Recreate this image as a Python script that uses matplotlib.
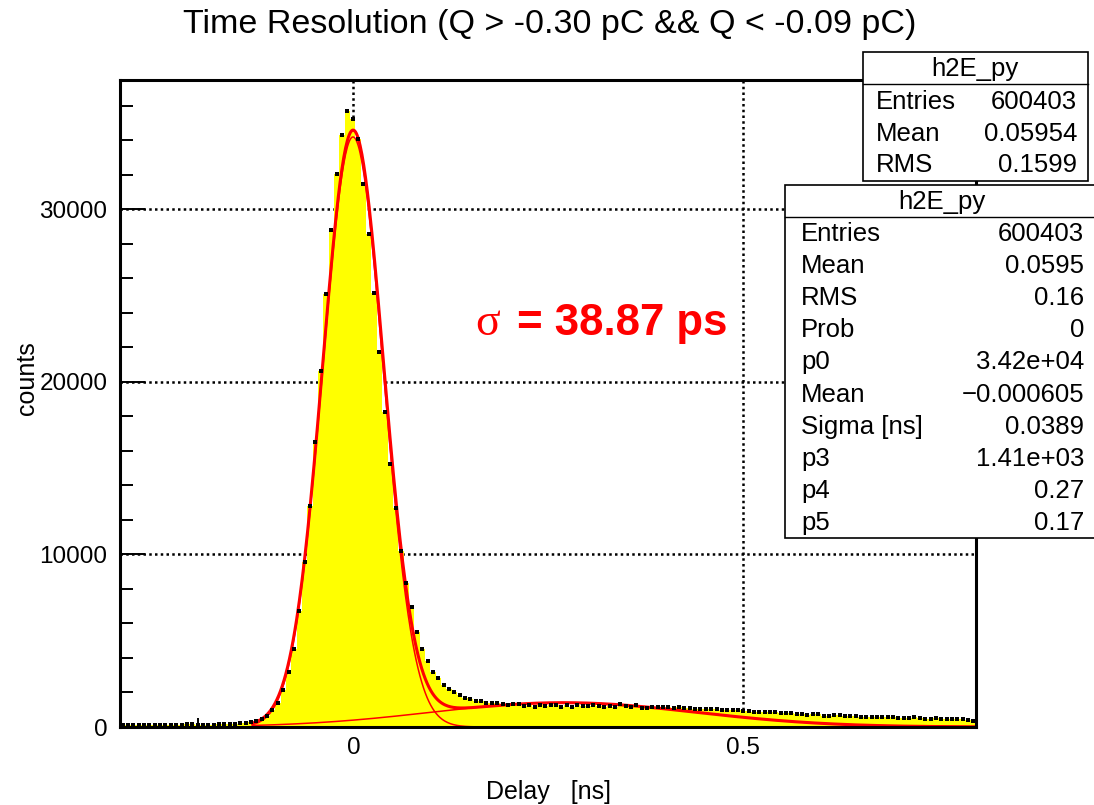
import numpy as np
import matplotlib
matplotlib.use("Agg")
import matplotlib.pyplot as plt
from matplotlib.patches import Rectangle
from matplotlib.lines import Line2D

plt.rcParams["font.family"] = ["Liberation Sans", "DejaVu Sans"]

# histogram: 160 bins between -0.3 and 0.8 ns
x_min, x_max = -0.3, 0.8
n_bins = 160
counts = [
    110, 105, 115, 110, 120, 110, 115, 120, 115, 125,
    120, 130, 170, 175, 130, 135, 140, 135, 145, 150,
    165, 185, 205, 235, 275, 345, 450, 610, 960, 1410,
    2150, 3210, 4545, 6750, 9540, 12790, 16500, 20660, 25070, 28800,
    32060, 34320, 35710, 35250, 34070, 31470, 28570, 25150, 21720, 18240,
    15220, 12670, 10210, 8360, 6980, 5500, 4545, 3840, 3200, 2860,
    2455, 2205, 2030, 1875, 1700, 1625, 1530, 1530, 1390, 1390,
    1390, 1350, 1295, 1350, 1315, 1235, 1295, 1180, 1295, 1235,
    1255, 1295, 1180, 1295, 1180, 1295, 1235, 1235, 1295, 1235,
    1180, 1235, 1180, 1315, 1235, 1180, 1295, 1120, 1120, 1180,
    1180, 1180, 1180, 1120, 1180, 1120, 1120, 1060, 1060, 1060,
    1060, 1060, 1005, 1005, 1005, 1005, 945, 945, 890, 890,
    890, 890, 890, 830, 830, 830, 770, 770, 715, 770,
    770, 655, 655, 715, 715, 655, 655, 655, 600, 600,
    600, 600, 600, 600, 600, 540, 540, 540, 600, 540,
    480, 480, 540, 480, 480, 480, 480, 480, 425, 365,
]

# fit parameters (gaus + gaus) from the stats box
fit_p = [3.42e4, -0.000605, 0.0389, 1.41e3, 0.27, 0.17]
fit_range = [-0.13, 0.8]

stats1_labels = ["Entries", "Mean", "RMS"]
stats1_values = ["600403", "0.05954", "0.1599"]
stats2_labels = ["Entries", "Mean", "RMS", "Prob", "p0", "Mean", "Sigma [ns]", "p3", "p4", "p5"]
stats2_values = ["600403", "0.0595", "0.16", "0", "3.42e+04", "\u22120.000605",
                 "0.0389", "1.41e+03", "0.27", "0.17"]

x_major = [0, 0.5]
x_major_labels = ["0", "0.5"]
y_major = [0, 10000, 20000, 30000]

W, H = 1094, 805
fig = plt.figure(figsize=(W / 100, H / 100), dpi=100)


def fx(px):
    return px / W


def fy(py):
    return 1 - py / H


ax = fig.add_axes([fx(120), fy(727), fx(976) - fx(120), fy(80) - fy(727)])

edges = np.linspace(x_min, x_max, n_bins + 1)
centers = 0.5 * (edges[:-1] + edges[1:])
ax.stairs(counts, edges, fill=True, color="#ffff00", lw=0, zorder=2)

xf = np.linspace(fit_range[0], fit_range[1], 800)
g1 = fit_p[0] * np.exp(-0.5 * ((xf - fit_p[1]) / fit_p[2]) ** 2)
g2 = fit_p[3] * np.exp(-0.5 * ((xf - fit_p[4]) / fit_p[5]) ** 2)
ax.plot(xf, g1, color="red", lw=1.1, zorder=3)
ax.plot(xf, g2, color="red", lw=1.1, zorder=3)
ax.plot(xf, g1 + g2, color="red", lw=2.2, zorder=4)
ax.plot(centers, counts, ls="none", marker="s", ms=3.4, mew=0, color="black", zorder=5)

ax.set_xlim(x_min, x_max)
ax.set_ylim(0, 37500)
ax.set_xticks(x_major)
ax.set_xticklabels(x_major_labels)
ax.set_xticks(np.arange(-0.3, 0.81, 0.1), minor=True)
ax.set_yticks(y_major)
ax.set_yticks(np.arange(0, 37500, 2000), minor=True)
ax.set_axisbelow(True)
ax.grid(True, which="major", color="black", ls=(0, (1, 1.3)), lw=1.8)

ax.tick_params(which="both", direction="in", top=False, right=False, width=1.4,
               labelsize=17.5)
ax.tick_params(axis="x", which="major", length=13, pad=7)
ax.tick_params(axis="x", which="minor", length=6.5)
ax.tick_params(axis="y", which="major", length=18, pad=9)
ax.tick_params(axis="y", which="minor", length=9)
for s in ax.spines.values():
    s.set_linewidth(2.2)
    s.set_zorder(6)

fig.text(fx(550), fy(24), "Time Resolution (Q > -0.30 pC && Q < -0.09 pC)",
         ha="center", va="center", fontsize=24.5)
fig.text(fx(27), fy(378), "counts", rotation=90, ha="center", va="center", fontsize=18)
fig.text(fx(549), fy(792), "Delay   [ns]", ha="center", va="center", fontsize=18)

# sigma annotation
fig.text(fx(475), fy(335), "\u03c3", color="red", fontsize=33, ha="left", va="baseline",
         family=["Liberation Serif", "DejaVu Serif"])
fig.text(fx(517), fy(335), "= 38.87 ps", color="red", fontsize=31.5, fontweight="bold",
         ha="left", va="baseline")


def stats_box(x0, y0, x1, y1, y_head, head_x, labels, values, lab_x, val_x, row0, dy):
    fig.add_artist(Rectangle((fx(x0), fy(y1)), fx(x1) - fx(x0), fy(y0) - fy(y1),
                             transform=fig.transFigure, facecolor="white",
                             edgecolor="black", lw=1.2, zorder=10))
    fig.add_artist(Line2D([fx(x0), fx(x1)], [fy(y_head), fy(y_head)],
                          transform=fig.transFigure, color="black", lw=1.0, zorder=11))
    fig.text(fx(head_x), fy((y0 + y_head) / 2 + 1), "h2E_py",
             ha="center", va="center", fontsize=18.5, zorder=12)
    for k, (lab, val) in enumerate(zip(labels, values)):
        yy = fy(row0 + k * dy)
        fig.text(fx(lab_x), yy, lab, ha="left", va="center", fontsize=18.5, zorder=12)
        fig.text(fx(val_x), yy, val, ha="right", va="center", fontsize=18.5, zorder=12)


stats_box(863, 52, 1088, 181, 84, 975, stats1_labels, stats1_values, 876, 1077, 102, 31.7)
stats_box(785, 185, 1100, 538, 217, 942, stats2_labels, stats2_values, 801, 1084, 234, 32.1)

fig.savefig("out.png", dpi=100)
